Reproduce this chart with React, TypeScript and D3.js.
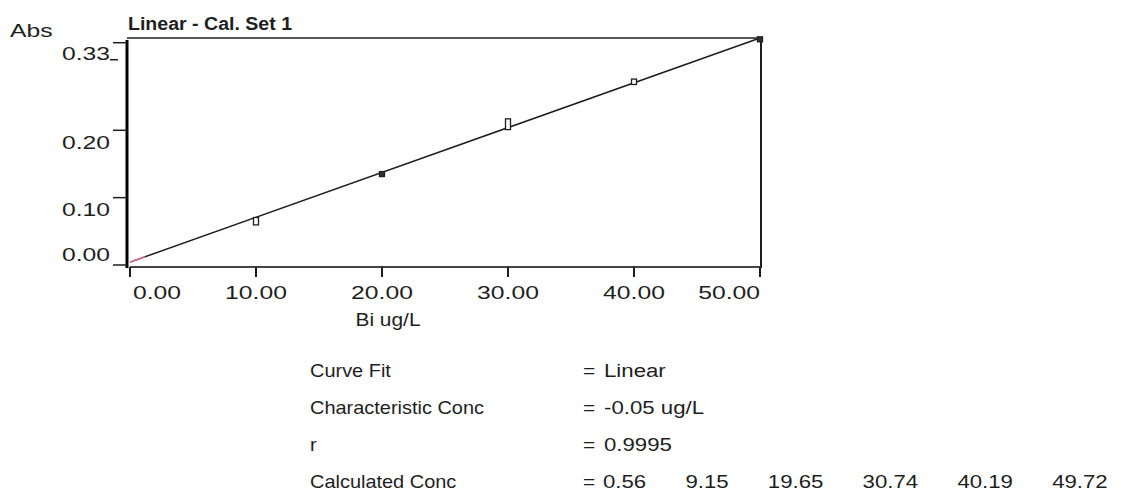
import React from "react";
import * as d3 from "d3";

const width = 1133;
const height = 498;

// standards: nominal concentration (ug/L) and mean absorbance
const conc = [0, 10, 20, 30, 40, 50];
const absorbance = [0.008, 0.065, 0.135, 0.209, 0.272, 0.335];
// replicate spread of each standard (drawn as the marker height)
const spread = [0, 0.011, 0.004, 0.016, 0.008, 0.004];

const xTicks = [0, 10, 20, 30, 40, 50];
const yTicks = [0, 0.1, 0.2, 0.33];

const statLabels = ["Curve Fit", "Characteristic Conc", "r", "Calculated Conc"];
const statValues = ["Linear", "-0.05 ug/L", "0.9995"];
const calculatedConc = ["0.56", "9.15", "19.65", "30.74", "40.19", "49.72"];

const frame = { left: 127, right: 761, top: 38, bottom: 267 };
const font = "'Liberation Sans', Arial, sans-serif";
const ink = "#1e1e1e";

// the printout is a bit stretched sideways, so text gets a horizontal scale
function T(props: any) {
  const { x, y, sx = 1, size = 19, anchor = "start", children, ...rest } = props;
  return (
    <text
      transform={`translate(${x},${y}) scale(${sx},1)`}
      textAnchor={anchor}
      fontSize={size}
      fill={ink}
      {...rest}
    >
      {children}
    </text>
  );
}

export default function App() {
  const x = d3.scaleLinear().domain([0, 50]).range([130, 760]);
  const y = d3.scaleLinear().domain([0, 0.337]).range([265, 38]);

  // least squares fit through the standards
  const mx = d3.mean(conc) as number;
  const my = d3.mean(absorbance) as number;
  const sxy = d3.sum(conc, (c, i) => (c - mx) * (absorbance[i] - my));
  const sxx = d3.sum(conc, (c) => (c - mx) * (c - mx));
  const slope = sxy / sxx;
  const intercept = my - slope * mx;
  const fit = (c: number) => intercept + slope * c;

  const line = d3
    .line<number>()
    .x((c) => x(c))
    .y((c) => y(fit(c)));

  const fmt = d3.format(".2f");
  const rowY = (i: number) => 377 + i * 37;

  return (
    <svg
      width={width}
      height={height}
      style={{ position: "absolute", left: 0, top: 0, background: "#fff" }}
      fontFamily={font}
    >
      <T x={10} y={37} sx={1.3}>
        Abs
      </T>
      <T x={128} y={30} sx={1.03} fontWeight="bold">
        Linear - Cal. Set 1
      </T>

      {/* frame */}
      <line x1={frame.left} x2={frame.right} y1={frame.top} y2={frame.top} stroke={ink} strokeWidth={1.5} />
      <line x1={frame.right} x2={frame.right} y1={frame.top} y2={frame.bottom + 1} stroke={ink} strokeWidth={2} />
      <line x1={130} x2={frame.right} y1={frame.bottom} y2={frame.bottom} stroke="#444" strokeWidth={2} />
      <line x1={frame.left} x2={frame.left} y1={frame.top + 2} y2={frame.bottom + 1} stroke="#000" strokeWidth={3} />

      {/* y axis */}
      {yTicks.map((t) => (
        <g key={t}>
          <line x1={113} x2={frame.left} y1={y(t)} y2={y(t)} stroke={ink} strokeWidth={1.5} />
          <T
            x={110}
            y={t === 0 ? y(t) - 4 : y(t) + (t === 0.33 ? 3 : 5)}
            sx={1.3}
            anchor="end"
            dominantBaseline={t === 0 ? "auto" : "hanging"}
          >
            {fmt(t)}
          </T>
          {t === 0.33 && (
            <line x1={110} x2={118} y1={y(t) + 17} y2={y(t) + 17} stroke={ink} strokeWidth={1.5} />
          )}
        </g>
      ))}

      {/* x axis */}
      {xTicks.map((t, i) => (
        <g key={t}>
          <line x1={x(t)} x2={x(t)} y1={frame.bottom} y2={frame.bottom + 10} stroke={ink} strokeWidth={2} />
          <T
            x={i === 0 ? x(t) + 3 : x(t)}
            y={299}
            sx={1.3}
            anchor={i === 0 ? "start" : i === xTicks.length - 1 ? "end" : "middle"}
          >
            {fmt(t)}
          </T>
        </g>
      ))}
      <T x={388} y={326} sx={1.1} anchor="middle">
        Bi ug/L
      </T>

      {/* fit line */}
      <path d={line([0, 50]) as string} fill="none" stroke={ink} strokeWidth={1.5} />
      <path d={line([0, 1.2]) as string} fill="none" stroke="#e0708a" strokeWidth={1.5} />

      {/* standards */}
      {conc.map((c, i) => {
        if (i === 0) return null;
        const h = Math.max(5, y(absorbance[i] - spread[i] / 2) - y(absorbance[i] + spread[i] / 2));
        const filled = spread[i] < 0.005;
        return (
          <rect
            key={c}
            x={x(c) - 2.5}
            y={y(absorbance[i]) - h / 2}
            width={5}
            height={h}
            fill={filled ? "#333" : "#fff"}
            stroke={ink}
            strokeWidth={1.3}
          />
        );
      })}

      {/* statistics */}
      {statLabels.map((s, i) => (
        <g key={s}>
          <T x={310} y={rowY(i)} sx={1.05}>
            {s}
          </T>
          <T x={583} y={rowY(i)} sx={1.1}>
            =
          </T>
        </g>
      ))}
      {statValues.map((v, i) => (
        <T key={v} x={604} y={rowY(i)} sx={1.17}>
          {v}
        </T>
      ))}
      <T x={603} y={rowY(3)} sx={1.17}>
        {calculatedConc.map((v, i) => (
          <tspan key={v} dx={i ? 33.5 : 0}>
            {v}
          </tspan>
        ))}
      </T>
    </svg>
  );
}
